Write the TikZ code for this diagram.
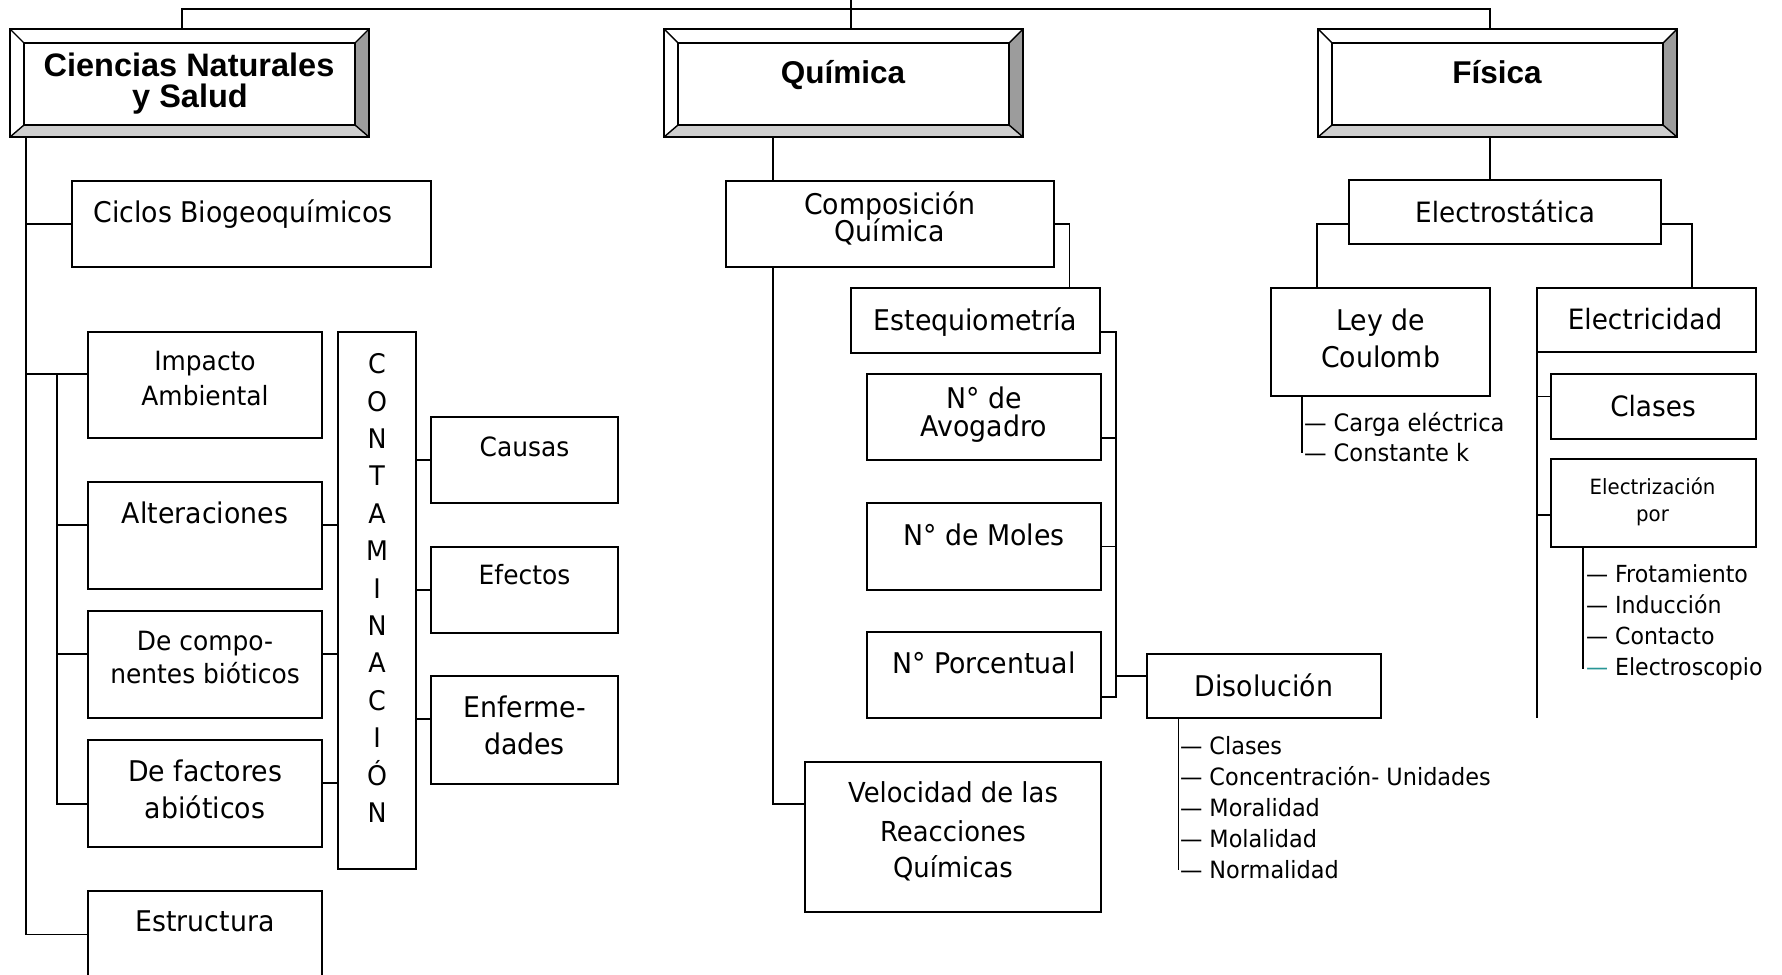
\documentclass[tikz,border=0pt]{standalone}
\usepackage{fontspec}
\setmainfont{DejaVu Sans}
\newfontfamily\bodyf[FakeStretch=0.94]{DejaVu Sans}
\newfontfamily\headf{Liberation Sans}
\newcommand\fsz[1]{\fontsize{#1}{#1}\selectfont}
\usetikzlibrary{calc}
\pgfdeclarelayer{bg}
\pgfsetlayers{bg,main}
\definecolor{bevlo}{RGB}{206,206,206}
\definecolor{bevri}{RGB}{156,156,156}
\definecolor{dashteal}{RGB}{40,150,150}

\tikzset{
  bx/.style={draw, line width=1.8pt, fill=white, rectangle, inner sep=0pt, outer sep=0pt},
  conn/.style={line width=1.7pt},
  tx/.style={anchor=base, inner sep=0pt, outer sep=0pt},
  lbl/.style={tx, font=\bodyf\fsz{28.5}},
  sml/.style={tx, font=\bodyf\fsz{26.5}},
  lst/.style={anchor=base west, inner sep=0pt, outer sep=0pt, font=\bodyf\fsz{23.8}},
  hd/.style={tx, font=\headf\bfseries\fsz{31.5}},
}

% plain box given by its corners (x1,y1,x2,y2), y measured downwards
\newcommand{\bx}[5]{%
  \node[bx, minimum width={#4-#2}, minimum height={#5-#3}] (#1) at ({(#2+#4)/2},{(#3+#5)/2}) {};}

% bevelled header box
\newcommand{\bevelbox}[5]{%
  \node[bx, line width=1.6pt, minimum width={#4-#2}, minimum height={#5-#3}] (#1) at ({(#2+#4)/2},{(#3+#5)/2}) {};
  \fill[bevlo] (#2,#5) -- (#4,#5) -- ({#4-14},{#5-12}) -- ({#2+14},{#5-12}) -- cycle;
  \fill[bevri] (#4,#3) -- (#4,#5) -- ({#4-14},{#5-12}) -- ({#4-14},{#3+14}) -- cycle;
  \draw[line width=1.6pt] (#1.north west) rectangle (#1.south east);
  \draw[line width=1.6pt] ({#2+14},{#3+14}) rectangle ({#4-14},{#5-12});
  \draw[line width=1.4pt] (#2,#3) -- ({#2+14},{#3+14})
                          (#4,#3) -- ({#4-14},{#3+14})
                          (#2,#5) -- ({#2+14},{#5-12})
                          (#4,#5) -- ({#4-14},{#5-12});}

\begin{document}
\begin{tikzpicture}[x=1pt, y=-1pt]
\useasboundingbox (0,0) rectangle (1782,974);
\clip (0,0) rectangle (1782,974);

% ---------- header boxes ----------
\bevelbox{cns}{10}{29}{369}{137}
\bevelbox{qui}{664}{29}{1023}{137}
\bevelbox{fis}{1318}{29}{1677}{137}
\node[hd, font=\headf\bfseries\fsz{32.5}] (cns-t1) at (189,76) {Ciencias Naturales};
\node[hd, font=\headf\bfseries\fsz{32.5}] (cns-t2) at (190,107) {y Salud};
\node[hd] (qui-t) at (843,83) {Química};
\node[hd] (fis-t) at (1497,83) {Física};

% ---------- Ciencias Naturales y Salud ----------
\bx{ciclos}{72}{181}{431}{267}
\bx{impacto}{88}{332}{322}{438}
\bx{alter}{88}{482}{322}{589}
\bx{compo}{88}{611}{322}{718}
\bx{fact}{88}{740}{322}{847}
\bx{estr}{88}{891}{322}{978}
\bx{contam}{338}{332}{416}{869}
\bx{causas}{431}{417}{618}{503}
\bx{efectos}{431}{547}{618}{633}
\bx{enf}{431}{676}{618}{784}

\node[lbl] (ciclos-t) at (243,222.7) {Ciclos Biogeoquímicos};
\node[sml] (impacto-t1) at (205,370.7) {Impacto};
\node[sml] (impacto-t2) at (205,405) {Ambiental};
\node[lbl] (alter-t) at (205,523.3) {Alteraciones};
\node[sml] (compo-t1) at (205,650.7) {De compo-};
\node[sml] (compo-t2) at (205,683.3) {nentes bióticos};
\node[lbl] (fact-t1) at (205,781.7) {De factores};
\node[lbl] (fact-t2) at (205,818.3) {abióticos};
\node[lbl] (estr-t) at (205,931.7) {Estructura};
\foreach \l [count=\i] in {C,O,N,T,A,M,I,N,A,C,I,Ó,N}
  \node[lbl, font=\bodyf\fsz{27}] (cl\i) at (377,{373.6+37.4*(\i-1)}) {\l};
\node[sml] (causas-t) at (524.5,456) {Causas};
\node[sml] (efectos-t) at (524.5,584.6) {Efectos};
\node[lbl] (enf-t1) at (524.5,717) {Enferme-};
\node[lbl] (enf-t2) at (524.5,754) {dades};

% ---------- Química ----------
\bx{comp}{726}{181}{1054}{267}
\bx{esteq}{851}{288}{1100}{353}
\bx{avog}{867}{374}{1101}{460}
\bx{moles}{867}{503}{1101}{590}
\bx{porc}{867}{632}{1101}{718}
\bx{dis}{1147}{654}{1381}{718}
\bx{veloc}{805}{762}{1101}{912}

\node[lbl] (comp-t1) at (890,214) {Composición};
\node[lbl] (comp-t2) at (890,241.7) {Química};
\node[lbl] (esteq-t) at (975.5,330) {Estequiometría};
\node[lbl] (avog-t1) at (984,408.3) {N° de};
\node[lbl] (avog-t2) at (984,436) {Avogadro};
\node[lbl] (moles-t) at (984,545) {N° de Moles};
\node[lbl] (porc-t) at (984,673.3) {N° Porcentual};
\node[lbl] (dis-t) at (1264,696) {Disolución};
\node[lst] (dis1) at (1180,754) {— Clases};
\node[lst] (dis2) at (1180,785.2) {— Concentración- Unidades};
\node[lst] (dis3) at (1180,816.4) {— Moralidad};
\node[lst] (dis4) at (1180,847.6) {— Molalidad};
\node[lst] (dis5) at (1180,878.8) {— Normalidad};
\node[lbl, font=\bodyf\fsz{27.5}] (veloc-t1) at (953,802.7) {Velocidad de las};
\node[lbl, font=\bodyf\fsz{27.5}] (veloc-t2) at (953,841) {Reacciones};
\node[lbl, font=\bodyf\fsz{27.5}] (veloc-t3) at (953,877.7) {Químicas};

% ---------- Física ----------
\bx{elec}{1349}{180}{1661}{244}
\bx{ley}{1271}{288}{1490}{396}
\bx{electri}{1537}{288}{1756}{352}
\bx{clases}{1551}{374}{1756}{439}
\bx{electriz}{1551}{459}{1756}{547}

\node[lbl, font=\bodyf\fsz{28}] (elec-t) at (1505,222.5) {Electrostática};
\node[lbl] (ley-t1) at (1380.5,330.7) {Ley de};
\node[lbl] (ley-t2) at (1380.5,367) {Coulomb};
\node[lbl, font=\bodyf\fsz{28}] (electri-t) at (1645,329.6) {Electricidad};
\node[lbl, font=\bodyf\fsz{28}] (clases-t) at (1653,416) {Clases};
\node[lbl, font=\bodyf\fsz{21}] (electriz-t1) at (1652.5,494) {Electrización};
\node[lbl, font=\bodyf\fsz{21}] (electriz-t2) at (1652.5,521.4) {por};
\node[lst, font=\bodyf\fsz{24}] (ley1) at (1304,431.4) {— Carga eléctrica};
\node[lst, font=\bodyf\fsz{24}] (ley2) at (1304,461.8) {— Constante k};
\node[lst, font=\bodyf\fsz{23.5}] (ei1) at (1586,582.7) {— Frotamiento};
\node[lst, font=\bodyf\fsz{23.5}] (ei2) at (1586,613.6) {— Inducción};
\node[lst, font=\bodyf\fsz{23.5}] (ei3) at (1586,644.5) {— Contacto};
\node[lst, font=\bodyf\fsz{23.5}] (ei4) at (1586,675.4) {{\color{dashteal}—} Electroscopio};

% ---------- connectors ----------
\begin{pgfonlayer}{bg}
  % top bar joining the three subjects
  \coordinate (bar) at (851,9);
  \coordinate (topend) at (851,0);
  \draw[conn] ([xshift=-7.5pt]cns.north) |- (bar) -| ([xshift=-7.5pt]fis.north);
  \draw[conn] (topend) -- (topend |- qui.north);

  % Ciencias Naturales y Salud
  \coordinate (lsp) at ([xshift=16pt]cns.south west);
  \draw[conn] (lsp) |- (estr.west);
  \draw[conn] (lsp |- ciclos.west) -- (ciclos.west);
  \coordinate (impL) at ([yshift=11pt]impacto.west);
  \draw[conn] (lsp |- impL) -- (impL);
  \coordinate (ssp) at ([xshift=-31pt]impL);
  \draw[conn] (ssp) |- ([yshift=-10.5pt]fact.west);
  \draw[conn] ([yshift=10.5pt]alter.west) -- ++(-31,0);
  \draw[conn] ([yshift=10.5pt]compo.west) -- ++(-31,0);
  \draw[conn] ([yshift=10.5pt]alter.east) -- ([yshift=10.5pt]alter.east -| contam.west);
  \draw[conn] ([yshift=10.5pt]compo.east) -- ([yshift=10.5pt]compo.east -| contam.west);
  \draw[conn] ([yshift=10.5pt]fact.east) -- ([yshift=10.5pt]fact.east -| contam.west);
  \draw[conn] (causas.west -| contam.east) -- (causas.west);
  \draw[conn] (efectos.west -| contam.east) -- (efectos.west);
  \draw[conn] ([yshift=11pt]enf.west -| contam.east) -- ([yshift=11pt]enf.west);

  % Química
  \coordinate (qst) at ([xshift=-70.5pt]qui.south);
  \draw[conn] (qst) |- ([yshift=33pt]veloc.west);
  \draw[conn] (comp.east) -| ([xshift=94pt]esteq.north);
  \coordinate (msp) at ([yshift=-11.5pt]esteq.east);
  \draw[conn] (msp) -- ++(16,0) |- ([yshift=-22pt]porc.east);
  \draw[conn] ([yshift=-21pt]avog.east) -- ++(15,0);
  \draw[conn] (moles.east) -- ++(15,0);
  \draw[conn] ([yshift=10pt]dis.west) -- ++(-31,0);
  \coordinate (dsub) at ([xshift=31.5pt]dis.south west);
  \draw[conn] (dsub) -- (dsub |- dis5.west);

  % Física
  \draw[conn] ([xshift=-7.5pt]fis.south) -- ([xshift=-7.5pt]fis.south |- elec.north);
  \draw[conn] ([yshift=-12pt]elec.west) -| ([xshift=-63.5pt]ley.north);
  \draw[conn] ([yshift=-12pt]elec.east) -| ([xshift=45.5pt]electri.north);
  \coordinate (lsub) at ([xshift=31pt]ley.south west);
  \draw[conn] (lsub) -- (lsub |- ley2.west);
  \coordinate (espine) at ([yshift=-366pt]electri.south west);
  \draw[conn] (electri.south west) -- (espine);
  \draw[conn] ([yshift=10pt]clases.west) -- ++(-14.5,0);
  \draw[conn] ([yshift=-12pt]electriz.west) -- ++(-14.5,0);
  \coordinate (esub) at ([xshift=32pt]electriz.south west);
  \draw[conn] (esub) -- (esub |- ei4.west);
\end{pgfonlayer}
\end{tikzpicture}
\end{document}
